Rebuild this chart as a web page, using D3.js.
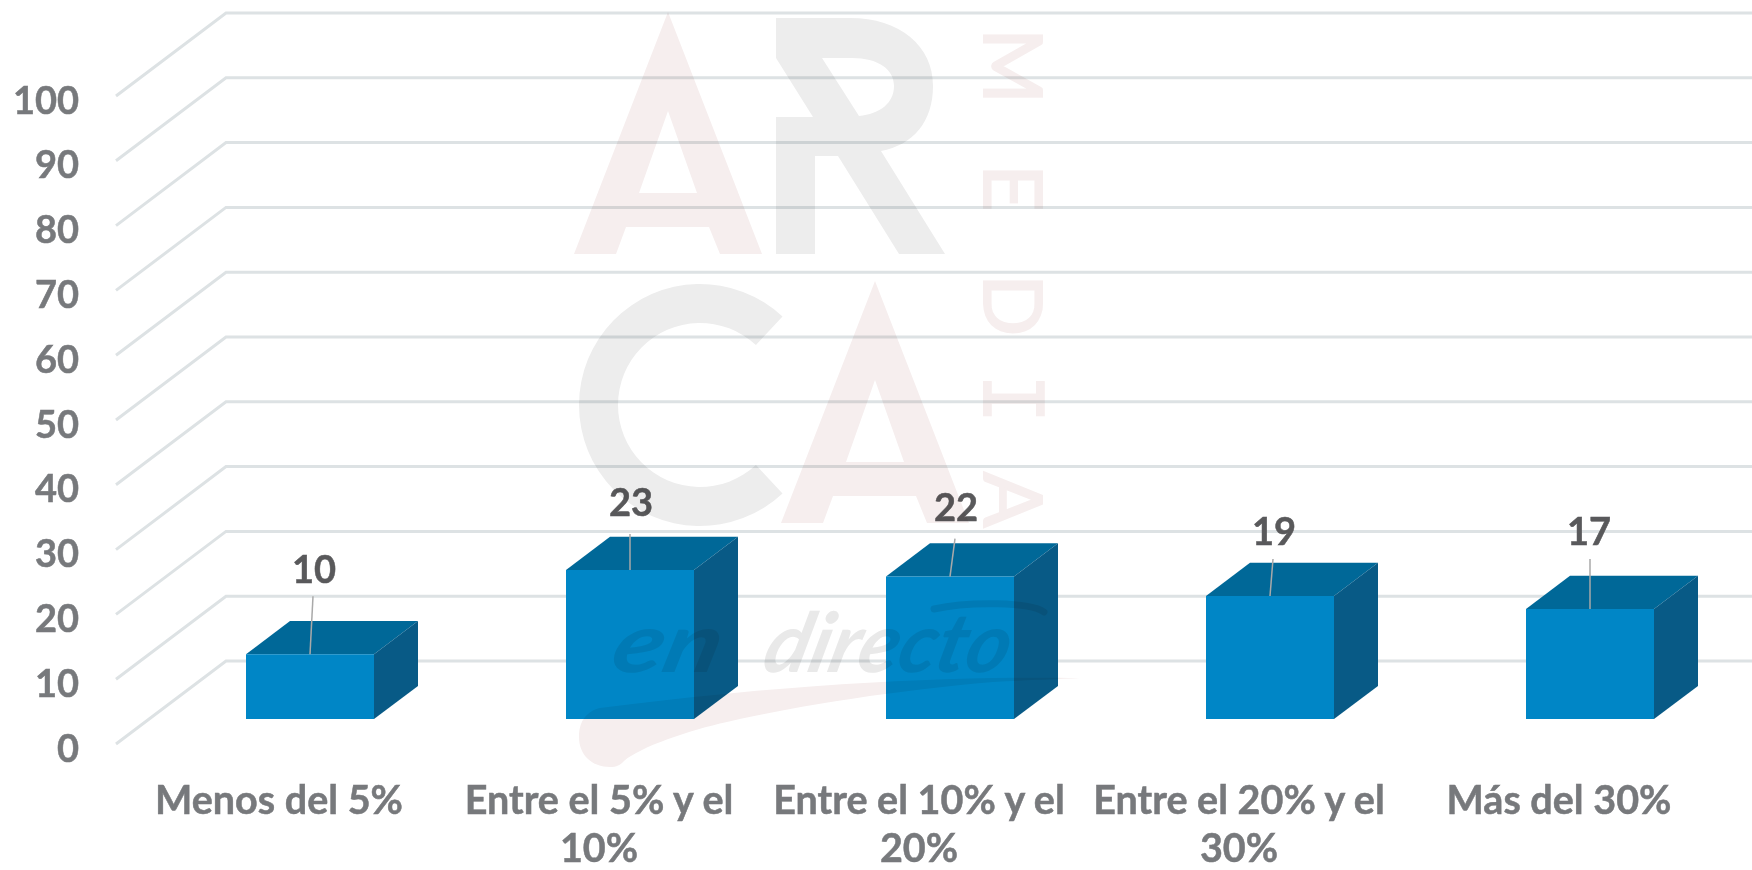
<!DOCTYPE html>
<html lang="es">
<head>
<meta charset="utf-8">
<title>Gráfico de barras 3D</title>
<script src="https://cdn.jsdelivr.net/npm/d3@7"></script>
<style>
	html, body { margin: 0; padding: 0; background: #fff; overflow: hidden; }
	svg { display: block; filter: blur(0.5px); }
	text { font-family: Lato, "Noto Sans", sans-serif; font-weight: 700; }
</style>
</head>
<body>
<div id="chart"></div>
<script>
// Datos del gráfico
var categories = ["Menos del 5%", "Entre el 5% y el 10%", "Entre el 10% y el 20%", "Entre el 20% y el 30%", "Más del 30%"];
var values = [10, 23, 22, 19, 17];
var yTicks = [0, 10, 20, 30, 40, 50, 60, 70, 80, 90, 100];

// Línea partida de cada etiqueta del eje
var categoryLines = [["Menos del 5%"], ["Entre el 5% y el", "10%"], ["Entre el 10% y el", "20%"], ["Entre el 20% y el", "30%"], ["Más del 30%"]];

// Ajustes del dibujo
var width = 1752, height = 870;
var depthX = 110, depthY = 83;         // desplazamiento de la pared del fondo
var barZ0 = 0.3, barZ1 = 0.7;          // profundidad de las barras
var labelShift = [[4, -85], [1, -68], [6, -69], [4, -65], [-1, -78]];
var leaderShift = [[3, -58], [0, -36], [5, -38], [3, -37], [0, -50]];

var svg = d3.select("#chart").append("svg")
	.attr("width", width)
	.attr("height", height);

var xScale = d3.scaleBand()
	.domain(categories)
	.range([117, 1717])
	.paddingInner(0.6)
	.paddingOuter(0.3);

var yScale = d3.scaleLinear()
	.domain([0, 100])
	.range([744, 96]);

// Proyección oblicua: z=0 delante, z=1 en la pared del fondo
function px(x, z) { return x + z * depthX; }
function py(v, z) { return yScale(v) - z * depthY; }

function poly(points) {
	return d3.line()(points);
}

// Rejilla: suelo lateral + pared del fondo
var grid = svg.append("g").attr("class", "grid");
grid.selectAll("path")
	.data(yTicks)
	.enter()
	.append("path")
	.attr("d", function (d) {
		return poly([[116, py(d, 0)], [px(116, 1), py(d, 1)], [width, py(d, 1)]]);
	})
	.style("fill", "none")
	.style("stroke", "#dde2e4")
	.style("stroke-width", 3);

// Eje Y
var yAxis = svg.append("g")
	.attr("transform", "translate(87,5)")
	.call(d3.axisLeft(yScale).tickValues(yTicks).tickSize(0).tickPadding(8));
yAxis.select(".domain").remove();
yAxis.selectAll("text")
	.style("font-family", "Lato, sans-serif")
	.style("font-size", "38px")
	.style("font-weight", 700)
	.style("fill", "#77797c")
	.style("stroke", "#77797c")
	.style("stroke-width", 0.5);

// Eje X con etiquetas en dos líneas
var xLabels = svg.selectAll(".x-label")
	.data(categories)
	.enter()
	.append("text")
	.attr("class", "x-label")
	.attr("text-anchor", "middle")
	.style("font-size", "39.5px")
	.style("fill", "#77797c")
	.style("stroke", "#77797c")
	.style("stroke-width", 0.5);
xLabels.each(function (d, i) {
	var t = d3.select(this);
	categoryLines[i].forEach(function (line, j) {
		t.append("tspan")
			.attr("x", xScale(d) + xScale.bandwidth() / 2 + 2)
			.attr("y", 814 + j * 48)
			.text(line);
	});
});

// Barras 3D: cara superior, lateral y frontal
var bars = svg.selectAll(".bar")
	.data(values)
	.enter()
	.append("g")
	.attr("class", "bar");

function barLeft(i) { return xScale(categories[i]); }
function barRight(i) { return barLeft(i) + xScale.bandwidth(); }

bars.append("path")
	.attr("d", function (d, i) {
		return poly([[px(barLeft(i), barZ0), py(d, barZ0)], [px(barRight(i), barZ0), py(d, barZ0)],
			[px(barRight(i), barZ1), py(d, barZ1)], [px(barLeft(i), barZ1), py(d, barZ1)]]) + "Z";
	})
	.style("fill", "#006898");

bars.append("path")
	.attr("d", function (d, i) {
		return poly([[px(barRight(i), barZ0), py(d, barZ0)], [px(barRight(i), barZ1), py(d, barZ1)],
			[px(barRight(i), barZ1), py(0, barZ1)], [px(barRight(i), barZ0), py(0, barZ0)]]) + "Z";
	})
	.style("fill", "#085a86");

bars.append("path")
	.attr("d", function (d, i) {
		return poly([[px(barLeft(i), barZ0), py(d, barZ0)], [px(barRight(i), barZ0), py(d, barZ0)],
			[px(barRight(i), barZ0), py(0, barZ0)], [px(barLeft(i), barZ0), py(0, barZ0)]]) + "Z";
	})
	.style("fill", "#0086c6");

// Líneas guía y etiquetas de valor
bars.append("line")
	.attr("x1", function (d, i) { return px(barLeft(i), barZ0) + xScale.bandwidth() / 2; })
	.attr("y1", function (d) { return py(d, barZ0); })
	.attr("x2", function (d, i) { return px(barLeft(i), barZ0) + xScale.bandwidth() / 2 + leaderShift[i][0]; })
	.attr("y2", function (d, i) { return py(d, barZ0) + leaderShift[i][1]; })
	.style("stroke", "#a9a9a9")
	.style("stroke-width", 1.5);

bars.append("text")
	.attr("x", function (d, i) { return px(barLeft(i), barZ0) + xScale.bandwidth() / 2 + labelShift[i][0]; })
	.attr("y", function (d, i) { return py(d, barZ0) + labelShift[i][1]; })
	.attr("text-anchor", "middle")
	.attr("dy", "0.36em")
	.style("font-size", "38px")
	.style("fill", "#59595b")
	.style("stroke", "#59595b")
	.style("stroke-width", 0.5)
	.text(function (d) { return d; });

// Marca de agua (logo), encima de todo con multiply
var mark = svg.append("g")
	.attr("class", "watermark")
	.style("mix-blend-mode", "multiply");

var pink = "#f6eeee", gray = "#ededed";
var letterA = "M94 0L188 242H146L135 215H52L42 242H0ZM94 99L65 181H123Z";

mark.append("path").attr("d", letterA).attr("fill-rule", "evenodd").attr("transform", "translate(574,12)").style("fill", pink);
mark.append("path").attr("d", letterA).attr("fill-rule", "evenodd").attr("transform", "translate(781,281)").style("fill", pink);

mark.append("path")
	.attr("fill-rule", "evenodd")
	.attr("d", "M776 18H850C900 18 933 46 933 86C933 122 913 145 881 151L945 254H899L838 156H815V254H776V117H813L776 58Z" +
		"M822 58H852C878 58 894 69 894 86C894 103 880 114 859 116Z")
	.style("fill", gray);

mark.append("path")
	.attr("transform", "translate(700,405)")
	.attr("d", d3.arc()
		.innerRadius(82)
		.outerRadius(121)
		.startAngle(137 * Math.PI / 180)
		.endAngle(403 * Math.PI / 180)())
	.style("fill", gray);

// Trazo inferior del logo
mark.append("path")
	.attr("d", "M1080 678C960 676 800 682 600 708C584 712 579 724 579 737C579 755 592 767 610 767C617 767 620 765 624 761C640 747 690 730 727 722C800 705 900 690 993 682C1030 680 1060 679 1080 678Z")
	.style("fill", pink);

var media = mark.append("text")
	.attr("transform", "translate(984,28) rotate(90)")
	.attr("y", 0)
	.style("font-size", "82px")
	.style("font-weight", 400)
	.style("fill", pink)
	.style("stroke", pink)
	.style("stroke-width", 2);
media.append("tspan").attr("x", "0 136 246").text("MED");
media.append("tspan").attr("x", 346).style("font-family", "'DejaVu Sans Mono', monospace").text("I");
media.append("tspan").attr("x", 444).text("A");

mark.append("text")
	.attr("transform", "translate(608,672) skewX(-14) scale(1,1.25)")
	.attr("textLength", 108)
	.attr("lengthAdjust", "spacingAndGlyphs")
	.style("font-size", "66px")
	.style("font-style", "italic")
	.style("font-weight", 700)
	.style("fill", "#e9e9e9")
	.text("en");

mark.append("text")
	.attr("transform", "translate(760,672) skewX(-14) scale(1,1.25)")
	.attr("textLength", 245)
	.attr("lengthAdjust", "spacingAndGlyphs")
	.style("font-size", "66px")
	.style("font-style", "italic")
	.style("font-weight", 700)
	.style("fill", "#e9e9e9")
	.text("directo");

mark.append("path")
	.attr("d", "M934 609C970 601 1030 602 1044 612")
	.style("fill", "none")
	.style("stroke", "#e9e9e9")
	.style("stroke-width", 7)
	.style("stroke-linecap", "round");
</script>
</body>
</html>
